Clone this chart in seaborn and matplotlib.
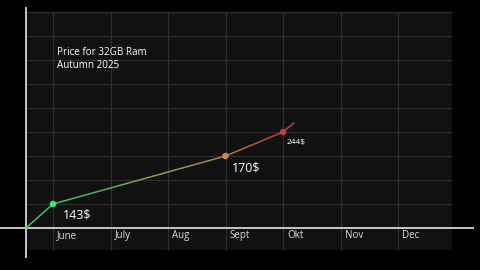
import numpy as np
import pandas as pd
import matplotlib
matplotlib.use("Agg")
import matplotlib.pyplot as plt
import seaborn as sns
from matplotlib.colors import LinearSegmentedColormap
from matplotlib.patches import Rectangle

# ---- data ----
months = ["June", "July", "Aug", "Sept", "Okt", "Nov", "Dec"]
# x position in month units (June = 0), y in gridline units
line_x = [-0.47, 0.0, 3.0, 4.0, 4.19]
line_y = [0.0, 1.0, 3.0, 4.0, 4.38]
point_x = [0.0, 3.0, 4.0]
point_y = [1.0, 3.0, 4.0]
price_labels = ["143$", "170$", "244$"]
title_lines = ["Price for 32GB Ram", "Autumn 2025"]

sns.set_theme(style="dark")
plt.rcParams['font.family'] = ['Open Sans', 'DejaVu Sans']

fig = plt.figure(figsize=(4.8, 2.7), dpi=100)
fig.patch.set_facecolor("#000000")
ax = fig.add_axes([0, 0, 1, 1])
ax.set_facecolor("#000000")
x0, x1 = -53 / 57.5, 427 / 57.5
y0, y1 = -42 / 24, 228 / 24
ax.set_xlim(x0, x1)
ax.set_ylim(y0, y1)
ax.axis("off")

# plot area background
ax.add_patch(Rectangle((-0.47, -0.92), 6.94 + 0.47, 9.0 + 0.92,
                       facecolor="#111111", edgecolor="none", zorder=0))

# grid
ax.hlines(range(1, 10), -0.47, 6.94, color="#2f2f2f", lw=0.9, zorder=1)
ax.vlines(range(len(months)), -0.92, 9.0, color="#2f2f2f", lw=0.9, zorder=1)

# axis lines
ax.hlines(0, x0, 7.32, color="#d4d4d4", lw=1.3, zorder=3)
ax.vlines(-0.47, -1.25, 9.2, color="#d4d4d4", lw=1.3, zorder=3)

# month labels
for i, m in enumerate(months):
    ax.text(i + 0.07, -0.33, m, color="#dddddd", fontsize=7,
            ha="left", va="center", zorder=4)

# gradient line drawn through seaborn, clipped into vertical strips
cmap = LinearSegmentedColormap.from_list(
    "g", [(0.0, "#3fc25e"), (0.25, "#4cb856"), (0.5, "#85a04e"),
          (0.75, "#b47c4a"), (0.93, "#c63c3c"), (1.0, "#c83838")])
df = pd.DataFrame({"x": line_x, "y": line_y})
xa, xb = line_x[0], line_x[-1]
n = 80
edges = np.linspace(xa - 0.02, xb + 0.05, n + 1)
for i in range(n):
    c = cmap(i / (n - 1))
    nlines = len(ax.lines)
    sns.lineplot(data=df, x="x", y="y", color=c, lw=1.1, sort=False,
                 estimator=None, ax=ax, legend=False, zorder=5)
    ln = ax.lines[nlines]
    r = Rectangle((edges[i], y0), edges[i + 1] - edges[i], y1 - y0,
                  transform=ax.transData, facecolor="none", edgecolor="none")
    ln.set_clip_path(r)

pts = pd.DataFrame({"x": point_x, "y": point_y})
sns.scatterplot(data=pts, x="x", y="y", hue=[0, 1, 2],
                palette=["#3ee86a", "#c08a50", "#c83a3a"], s=22,
                edgecolor="none", legend=False, ax=ax, zorder=6)
ax.set_xlabel("")
ax.set_ylabel("")
ax.set_xlim(x0, x1)
ax.set_ylim(y0, y1)

# price labels
ax.text(0.17, 0.54, price_labels[0], color="#ffffff", fontsize=9,
        ha="left", va="center", zorder=7)
ax.text(3.11, 2.5, price_labels[1], color="#ffffff", fontsize=9,
        ha="left", va="center", zorder=7)
ax.text(4.07, 3.58, price_labels[2], color="#ffffff", fontsize=6,
        ha="left", va="center", zorder=7)

# title
ax.text(0.07, 7.33, title_lines[0], color="#ffffff", fontsize=7.1,
        ha="left", va="center", zorder=7)
ax.text(0.07, 6.75, title_lines[1], color="#ffffff", fontsize=7.1,
        ha="left", va="center", zorder=7)

fig.savefig("out.png", dpi=100, facecolor=fig.get_facecolor())
